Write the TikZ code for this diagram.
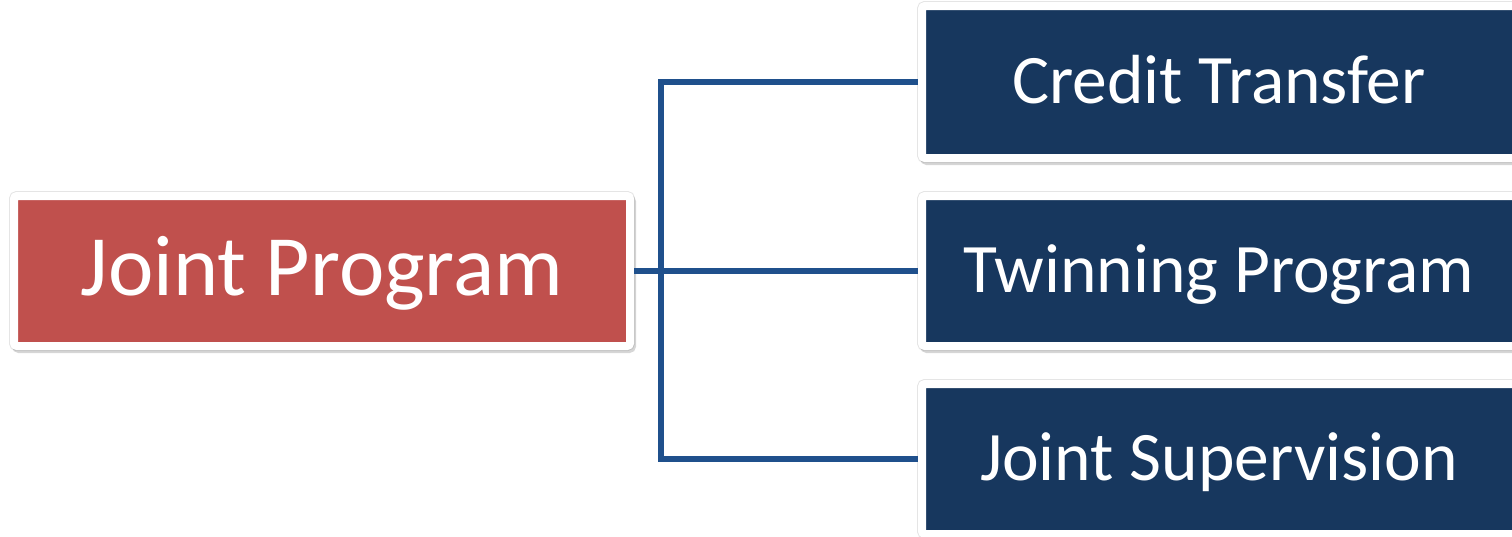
\documentclass[tikz,border=0pt]{standalone}
\usepackage{fontspec}
\setmainfont{Carlito}
\usetikzlibrary{shadows}
\definecolor{jred}{HTML}{C0504D}
\definecolor{jnavy}{HTML}{17375E}
\definecolor{jline}{HTML}{1F508C}
\tikzset{
  x=1pt,y=-1pt,
  boxbase/.style={rectangle, draw=white, line width=8pt, rounded corners=3pt,
    inner sep=0pt, text=white, text depth=0pt,
    general shadow={shadow xshift=0pt, shadow yshift=0pt, opacity=.10, fill=black, draw=black, line width=10pt},
    drop shadow={shadow xshift=2pt, shadow yshift=-3pt, opacity=.16, fill=black, draw=black, line width=8pt}},
  leftbox/.style={boxbase, fill=jred, minimum width=616pt, minimum height=150pt,
    font=\fontsize{86}{100}\selectfont, text height=48pt},
  rightbox/.style={boxbase, fill=jnavy, minimum width=594pt, minimum height=150pt,
    font=\fontsize{69.5}{80}\selectfont, text height=42pt},
  conn/.style={draw=jline, line width=5.5pt}
}
\begin{document}
\begin{tikzpicture}
\useasboundingbox (0,0) rectangle (1512,536);
\node[leftbox] (jp) at (322,271) {Joint Program};
\node[rightbox, minimum height=152pt] (ct) at (1219,82) {Credit Transfer};
\node[rightbox] (tp) at (1219,271) {Twinning Program};
\node[rightbox] (js) at (1219,459) {Joint Supervision};
\coordinate (hub) at (661,271);
\draw[conn] (jp.east) -- (hub);
\draw[conn] (hub) |- (ct.west);
\draw[conn] (hub) -- (tp.west);
\draw[conn] (hub) |- (js.west);
\end{tikzpicture}
\end{document}
